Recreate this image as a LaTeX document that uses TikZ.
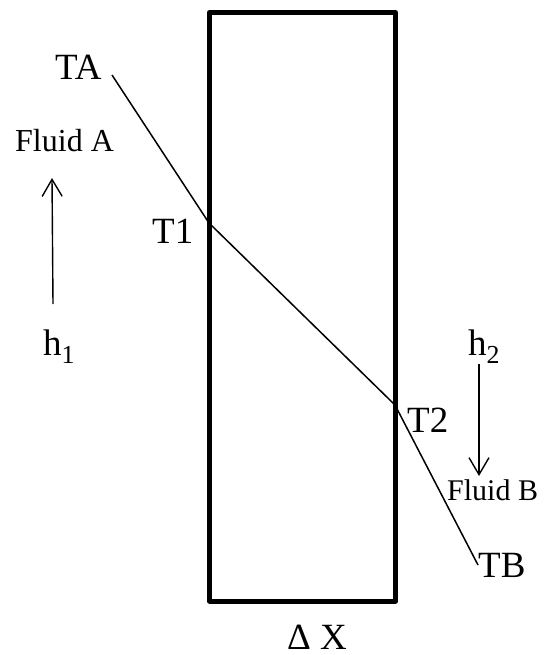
\documentclass[tikz,border=0pt]{standalone}
\usepackage{fontspec}
\setmainfont{Liberation Serif}
\usetikzlibrary{arrows.meta}
\begin{document}
\begin{tikzpicture}[x=1pt,y=-1pt,
  wall/.style={line width=5pt,line join=round},
  profile/.style={line width=1.5pt},
  flow/.style={line width=1.4pt,-{Straight Barb[length=17pt,width=20pt,line width=1.4pt]}},
  lbl/.style={anchor=base west,inner sep=0pt,font=\fontsize{37}{40}\selectfont},
  fluid/.style={anchor=base west,inner sep=0pt}]
\useasboundingbox (0,0) rectangle (545,655);

% wall of thickness Delta X
\draw[wall] (209.5,12.5) rectangle (395.5,601);

% temperature profile through the two films and the wall
\coordinate (pA) at (112,75);
\coordinate (p1) at (209,223);
\coordinate (p2) at (395,405);
\coordinate (pB) at (478,565);
\draw[profile] (pA) -- (p1) -- (p2) -- (pB);

% flow directions
\coordinate (a0) at (53,304);
\coordinate (a1) at (52,178);
\coordinate (b0) at (479,364);
\coordinate (b1) at (479,476);
\draw[flow] (a0) -- (a1);
\draw[flow] (b0) -- (b1);

% labels
\node[lbl] (tA) at (55,80) {TA};
\node[fluid,font=\fontsize{32}{36}\selectfont] (fA) at (15,152) {Fluid A};
\node[lbl] (t1) at (152,243) {T1};
\node[lbl] (h1) at (43,355) {h\textsubscript{1}};
\node[lbl] (h2) at (468,355) {h\textsubscript{2}};
\node[lbl] (t2) at (407,432) {T2};
\node[fluid,font=\fontsize{30}{34}\selectfont] (fB) at (447,500) {Fluid B};
\node[lbl] (tB) at (478,577) {TB};
\node[lbl] (dx) at (287,649) {Δ X};
\end{tikzpicture}
\end{document}
